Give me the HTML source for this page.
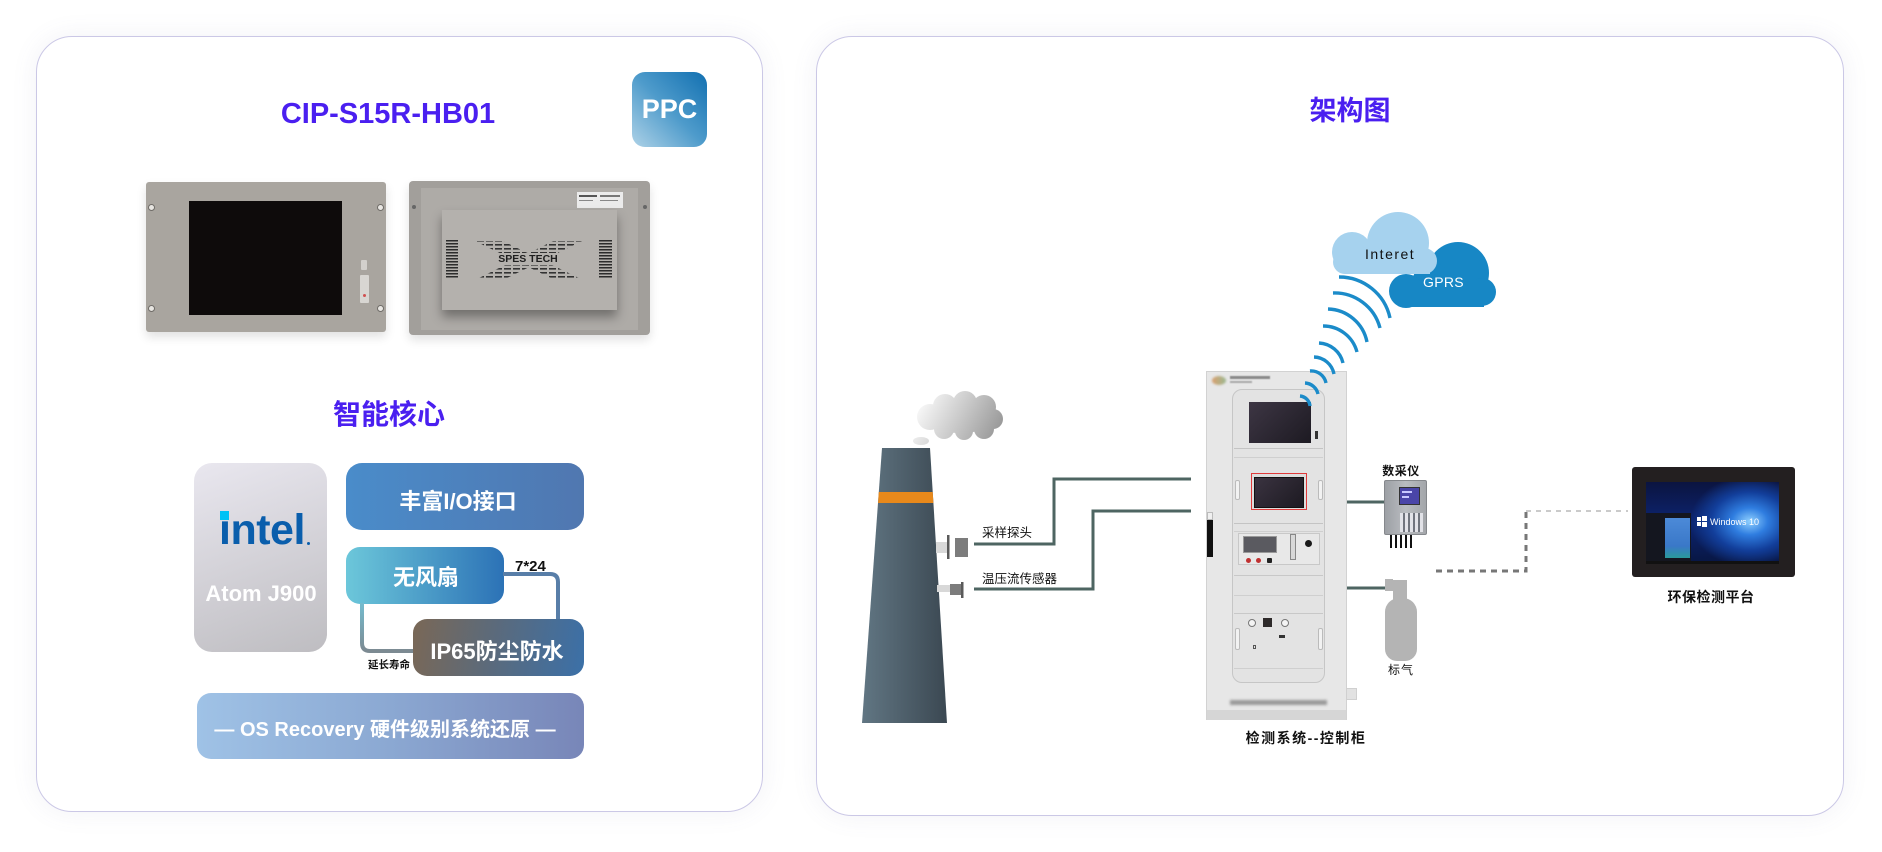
<!DOCTYPE html>
<html><head><meta charset="utf-8">
<style>
*{margin:0;padding:0;box-sizing:border-box}
html,body{width:1882px;height:852px;background:#fff;overflow:hidden}
body{position:relative;font-family:"Liberation Sans","Noto Sans CJK SC",sans-serif}
.a{position:absolute}
.t{position:absolute;line-height:1;white-space:nowrap}
.c{transform:translateX(-50%)}
.card{position:absolute;background:#fff;border:1px solid #cbc8e6;border-radius:36px;box-shadow:0 0 26px rgba(110,110,160,0.09)}
.b{font-weight:bold}
.w{color:#fff}
.hole{position:absolute;width:7px;height:7px;border-radius:50%;background:#e8e6e2;border:1.5px solid #6f6c68}
</style></head><body>

<!-- cards -->
<div class="card" style="left:36px;top:36px;width:727px;height:776px"></div>
<div class="card" style="left:816px;top:36px;width:1028px;height:780px"></div>

<!-- LEFT CARD -->
<div class="t c b" style="left:388px;top:100px;font-size:29px;color:#4a1ff0">CIP-S15R-HB01</div>
<div class="a b" style="left:632px;top:72px;width:75px;height:75px;border-radius:13px;background:linear-gradient(to bottom left,#1270b1 0%,#4e9bcb 50%,#aed2e7 100%);display:flex;align-items:center;justify-content:center;color:#fff;font-size:27px;line-height:1">PPC</div>

<!-- front panel -->
<div class="a" style="left:146px;top:182px;width:240px;height:150px;background:#a9a59f;border-radius:3px;box-shadow:0 5px 10px rgba(0,0,0,0.12)"></div>
<div class="a" style="left:189px;top:201px;width:153px;height:114px;background:#0e0b0b"></div>
<div class="hole" style="left:148px;top:204px"></div>
<div class="hole" style="left:377px;top:204px"></div>
<div class="hole" style="left:148px;top:305px"></div>
<div class="hole" style="left:377px;top:305px"></div>
<div class="a" style="left:361px;top:260px;width:6px;height:10px;background:#d3d0cc;border-radius:1px"></div>
<div class="a" style="left:360px;top:275px;width:9px;height:28px;background:#d8d6d2;border-radius:1px"></div>
<div class="a" style="left:363px;top:294px;width:3px;height:3px;background:#d05050;border-radius:50%"></div>

<!-- back panel -->
<div class="a" style="left:409px;top:181px;width:241px;height:154px;background:#a29f9b;border-radius:4px;box-shadow:0 5px 10px rgba(0,0,0,0.12)"></div>
<div class="a" style="left:421px;top:188px;width:217px;height:142px;background:#aeaba7"></div>
<div class="a" style="left:412px;top:205px;width:4px;height:4px;background:#666;border-radius:50%"></div>
<div class="a" style="left:643px;top:205px;width:4px;height:4px;background:#666;border-radius:50%"></div>
<div class="a" style="left:577px;top:192px;width:46px;height:16px;background:#ebebeb"></div>
<div class="a" style="left:579px;top:195px;width:18px;height:2px;background:#555"></div>
<div class="a" style="left:600px;top:195px;width:20px;height:2px;background:#777"></div>
<div class="a" style="left:579px;top:200px;width:14px;height:1px;background:#888"></div>
<div class="a" style="left:600px;top:200px;width:18px;height:1px;background:#888"></div>
<div class="a" style="left:442px;top:210px;width:175px;height:100px;background:#b4b1ad;box-shadow:0 7px 10px rgba(0,0,0,0.35)"></div>
<div class="a" style="left:446px;top:240px;width:12px;height:38px;background:repeating-linear-gradient(to bottom,#2c2c2c 0 1.4px,transparent 1.4px 3px)"></div>
<div class="a" style="left:599px;top:240px;width:13px;height:38px;background:repeating-linear-gradient(to bottom,#2c2c2c 0 1.4px,transparent 1.4px 3px)"></div>

<!-- intel box -->
<div class="a" style="left:194px;top:463px;width:133px;height:189px;border-radius:18px;background:linear-gradient(160deg,#e9e7ef,#bebdc1)"></div>
<div class="t b" style="left:219px;top:509px;font-size:43px;color:#0a5eac;letter-spacing:-0.5px">intel</div>
<div class="a" style="left:220px;top:511px;width:9px;height:9px;background:#00c2f5"></div>
<div class="a" style="left:307px;top:542px;width:3px;height:3px;background:#0a5eac;border-radius:50%"></div>
<div class="t c b w" style="left:261px;top:583px;font-size:22px">Atom J900</div>

<!-- feature boxes -->
<div class="a" style="left:346px;top:463px;width:238px;height:67px;border-radius:16px;background:linear-gradient(90deg,#4a8cca,#5077b0)"></div>
<div class="t c b w" style="left:458px;top:491px;font-size:22px">丰富I/O接口</div>

<div class="a" style="left:346px;top:547px;width:158px;height:57px;border-radius:14px;background:linear-gradient(90deg,#6cc7da,#2c72b6)"></div>
<div class="t c b w" style="left:426px;top:567px;font-size:22px">无风扇</div>

<div class="t b" style="left:515px;top:559px;font-size:15px;color:#111">7*24</div>

<svg class="a" style="left:0;top:0" width="1882" height="852">
<defs>
<linearGradient id="lg1" x1="0" y1="0" x2="0" y2="1"><stop offset="0" stop-color="#74bccf"/><stop offset="1" stop-color="#7c8a92"/></linearGradient>
</defs>
<path d="M362 603 V643 Q362 651 370 651 H415" stroke="url(#lg1)" stroke-width="4" fill="none"/>
<path d="M503 574 H550 Q558 574 558 582 V621" stroke="#587ea8" stroke-width="4" fill="none"/>
</svg>

<div class="a" style="left:413px;top:619px;width:171px;height:57px;border-radius:14px;background:linear-gradient(100deg,#7a6856,#5c6a7a 45%,#3b70a8)"></div>
<div class="t c b w" style="left:497px;top:641px;font-size:22px">IP65防尘防水</div>
<div class="t c b" style="left:389px;top:660px;font-size:10.5px;color:#111">延长寿命</div>

<div class="a" style="left:197px;top:693px;width:387px;height:66px;border-radius:14px;background:linear-gradient(90deg,#9fc2e6,#8ba8d2 50%,#7886b8)"></div>
<div class="t c b w" style="left:385px;top:720px;font-size:20px">— OS Recovery 硬件级别系统还原 —</div>

<div class="t c b" style="left:389px;top:401px;font-size:28px;color:#4a1ff0">智能核心</div>

<!-- RIGHT CARD -->
<div class="t c b" style="left:1350px;top:98px;font-size:27px;color:#4a1ff0">架构图</div>

<!-- cabinet -->
<div class="a" style="left:1206px;top:371px;width:141px;height:349px;background:#e7e7e7;border:1px solid #d2d2d2"></div>
<div class="a" style="left:1207px;top:710px;width:139px;height:10px;background:#d6d6d6"></div>
<div class="a" style="left:1346px;top:688px;width:11px;height:12px;background:#e2e2e2;border:1px solid #d0d0d0"></div>
<div class="a" style="left:1212px;top:376px;width:14px;height:9px;border-radius:50%;background:linear-gradient(90deg,#d9a070,#9cb890);filter:blur(1px)"></div>
<div class="a" style="left:1230px;top:376px;width:40px;height:3px;background:#8a8a8a;filter:blur(.6px)"></div>
<div class="a" style="left:1230px;top:381px;width:22px;height:2px;background:#aaa;filter:blur(.6px)"></div>
<div class="a" style="left:1232px;top:389px;width:93px;height:294px;border:1.5px solid #c6c6c6;border-radius:10px;background:#e3e3e3"></div>
<div class="a" style="left:1249px;top:402px;width:62px;height:41px;background:linear-gradient(135deg,#3d3644,#1d1a22)"></div>
<div class="a" style="left:1315px;top:431px;width:3px;height:8px;background:#333"></div>
<div class="a" style="left:1234px;top:448px;width:89px;height:1px;background:#c4c4c4"></div>
<div class="a" style="left:1234px;top:457px;width:89px;height:1px;background:#cfcfcf"></div>
<div class="a" style="left:1251px;top:473px;width:56px;height:37px;border:1.5px solid #e03a3a;background:#ddd"></div>
<div class="a" style="left:1254px;top:477px;width:50px;height:31px;background:linear-gradient(135deg,#3a3340,#1d1a22);border:1px solid #111"></div>
<div class="a" style="left:1235px;top:480px;width:5px;height:20px;background:#f2f2f2;border:1px solid #bbb;border-radius:2px"></div>
<div class="a" style="left:1318px;top:480px;width:5px;height:20px;background:#f2f2f2;border:1px solid #bbb;border-radius:2px"></div>
<div class="a" style="left:1234px;top:523px;width:89px;height:1px;background:#c4c4c4"></div>
<div class="a" style="left:1234px;top:531px;width:89px;height:1px;background:#cfcfcf"></div>
<div class="a" style="left:1238px;top:533px;width:82px;height:32px;border:1px solid #c8c8c8;background:#e8e8e8"></div>
<div class="a" style="left:1243px;top:536px;width:34px;height:17px;background:#5a5a60;border:1.5px solid #999"></div>
<div class="a" style="left:1246px;top:558px;width:5px;height:5px;border-radius:50%;background:#c03030"></div>
<div class="a" style="left:1256px;top:558px;width:5px;height:5px;border-radius:50%;background:#c03030"></div>
<div class="a" style="left:1267px;top:558px;width:5px;height:5px;border-radius:1px;background:#222"></div>
<div class="a" style="left:1290px;top:534px;width:6px;height:26px;background:#d8d8d8;border:1px solid #888"></div>
<div class="a" style="left:1305px;top:540px;width:7px;height:7px;border-radius:50%;background:#1a1a1a"></div>
<div class="a" style="left:1234px;top:575px;width:89px;height:1px;background:#c8c8c8"></div>
<div class="a" style="left:1234px;top:595px;width:89px;height:1px;background:#cfcfcf"></div>
<div class="a" style="left:1234px;top:613px;width:89px;height:1px;background:#c8c8c8"></div>
<div class="a" style="left:1248px;top:619px;width:8px;height:8px;border-radius:50%;background:#f4f4f4;border:1px solid #777"></div>
<div class="a" style="left:1263px;top:618px;width:9px;height:9px;background:#2e2a2a"></div>
<div class="a" style="left:1281px;top:619px;width:8px;height:8px;border-radius:50%;background:#f4f4f4;border:1px solid #777"></div>
<div class="a" style="left:1279px;top:635px;width:6px;height:3px;background:#333"></div>
<div class="a" style="left:1253px;top:645px;width:3px;height:4px;border:1px solid #555"></div>
<div class="a" style="left:1235px;top:628px;width:5px;height:22px;background:#f2f2f2;border:1px solid #bbb;border-radius:2px"></div>
<div class="a" style="left:1318px;top:628px;width:5px;height:22px;background:#f2f2f2;border:1px solid #bbb;border-radius:2px"></div>
<div class="a" style="left:1234px;top:668px;width:89px;height:1px;background:#cfcfcf"></div>
<div class="a" style="left:1207px;top:512px;width:6px;height:8px;background:#f0f0f0;border:1px solid #bbb"></div>
<div class="a" style="left:1207px;top:520px;width:6px;height:37px;background:#111"></div>
<div class="a" style="left:1230px;top:700px;width:97px;height:5px;background:#9a9a9a;filter:blur(1.2px)"></div>

<!-- 数采仪 device -->
<div class="a" style="left:1384px;top:480px;width:43px;height:55px;background:linear-gradient(90deg,#9da0a5,#b9bcc0 50%,#a3a6aa);border:1px solid #85888c;border-radius:2px"></div>
<div class="a" style="left:1399px;top:487px;width:21px;height:18px;background:#4a45a8;border:1px solid #333"></div>
<div class="a" style="left:1402px;top:491px;width:10px;height:1.5px;background:#c8c8ff"></div>
<div class="a" style="left:1402px;top:496px;width:7px;height:1.5px;background:#c8c8ff"></div>
<div class="a" style="left:1400px;top:513px;width:23px;height:19px;background:repeating-linear-gradient(90deg,#e8e8ee 0 3px,#6a6e78 3px 5px),#777;opacity:.9"></div>
<div class="a" style="left:1390px;top:535px;width:2px;height:13px;background:#111"></div>
<div class="a" style="left:1395px;top:535px;width:2px;height:13px;background:#111"></div>
<div class="a" style="left:1400px;top:535px;width:2px;height:13px;background:#111"></div>
<div class="a" style="left:1405px;top:535px;width:2px;height:13px;background:#111"></div>
<div class="a" style="left:1410px;top:535px;width:2px;height:13px;background:#111"></div>

<!-- gas cylinder -->
<div class="a" style="left:1385px;top:579px;width:8px;height:12px;background:#b4b4b4"></div>
<div class="a" style="left:1393px;top:580px;width:14px;height:22px;background:#b4b4b4"></div>
<div class="a" style="left:1385px;top:598px;width:32px;height:63px;background:#b4b4b4;border-radius:14px 14px 12px 12px"></div>

<!-- monitor -->
<div class="a" style="left:1632px;top:467px;width:163px;height:110px;background:#231f20;border-radius:3px"></div>
<div class="a" style="left:1646px;top:482px;width:133px;height:82px;background:radial-gradient(ellipse 45% 55% at 78% 48%,#8fd0ff 0%,#2f7de0 30%,#123e9a 65%,rgba(10,25,80,0) 100%),linear-gradient(180deg,#0b1440,#0c2470 50%,#081642)"></div>
<div class="a" style="left:1646px;top:513px;width:45px;height:50px;background:#14161f"></div>
<div class="a" style="left:1665px;top:518px;width:25px;height:40px;background:linear-gradient(180deg,#4c8ad8,#3a78c8 70%,#2a9a9a)"></div>
<div class="a" style="left:1646px;top:561px;width:133px;height:3px;background:#111"></div>
<div class="a" style="left:1697px;top:517px;width:4px;height:4px;background:#fff"></div>
<div class="a" style="left:1702px;top:516px;width:5px;height:5px;background:#fff"></div>
<div class="a" style="left:1697px;top:522px;width:4px;height:4px;background:#fff"></div>
<div class="a" style="left:1702px;top:522px;width:5px;height:5px;background:#fff"></div>
<div class="t w" style="left:1710px;top:518px;font-size:9px">Windows 10</div>

<!-- right-side SVG -->
<svg class="a" style="left:0;top:0" width="1882" height="852">
<defs>
<linearGradient id="chim" gradientUnits="userSpaceOnUse" x1="862" y1="0" x2="947" y2="0"><stop offset="0" stop-color="#617683"/><stop offset="1" stop-color="#3b4852"/></linearGradient>
<linearGradient id="smoke" gradientUnits="userSpaceOnUse" x1="925" y1="398" x2="995" y2="436"><stop offset="0" stop-color="#f6f6f6"/><stop offset="0.5" stop-color="#c9c9c9"/><stop offset="1" stop-color="#9a9a9a"/></linearGradient>
<pattern id="vent" width="9" height="4" patternUnits="userSpaceOnUse"><rect width="7" height="1.6" fill="#333"/></pattern>
</defs>
<!-- X pattern on back panel -->
<polygon points="475,241 503,241 583,280 555,280" fill="url(#vent)"/>
<polygon points="553,241 582,241 503,280 475,280" fill="url(#vent)"/>
<rect x="496" y="253" width="64" height="12" fill="#b4b1ad"/>

<!-- smoke -->
<g fill="url(#smoke)">
<ellipse cx="960" cy="418" rx="36" ry="15"/>
<circle cx="930" cy="417" r="13"/>
<circle cx="945" cy="406" r="12"/>
<circle cx="965" cy="403" r="12"/>
<circle cx="984" cy="407" r="12"/>
<circle cx="993" cy="419" r="10"/>
<circle cx="984" cy="429" r="10"/>
<circle cx="964" cy="431" r="9"/>
<circle cx="944" cy="429" r="10"/>
<ellipse cx="921" cy="441" rx="8" ry="4"/>
</g>
<!-- chimney -->
<polygon points="882,448 930,448 947,723 862,723" fill="url(#chim)"/>
<polygon points="878.8,492 932.7,492 933.4,503 878.1,503" fill="#e8891b"/>
<!-- probes -->
<rect x="936" y="542" width="11" height="11" fill="#d8d8d8"/>
<rect x="947" y="535" width="2.5" height="24" fill="#5a5a5a"/>
<rect x="955" y="538" width="13" height="19" fill="#7c7c7c"/>
<rect x="937" y="585" width="13" height="7" fill="#d8d8d8"/>
<rect x="950" y="584" width="11" height="11" fill="#7c7c7c"/>
<rect x="961" y="582" width="2.5" height="16" fill="#5a5a5a"/>
<!-- lines -->
<g stroke="#4e6562" stroke-width="3" fill="none">
<path d="M974 544 H1054 V479 H1191"/>
<path d="M974 589 H1093 V511 H1191"/>
<path d="M1347 502 H1384"/>
<path d="M1347 588 H1385"/>
</g>
<!-- dashed -->
<path d="M1436 571 H1526 V511" stroke="#777" stroke-width="3" fill="none" stroke-dasharray="6 5"/>
<path d="M1526 511 H1628" stroke="#aaa" stroke-width="1.2" fill="none" stroke-dasharray="5 5"/>
<!-- clouds -->
<g fill="#1787c5">
<circle cx="1458" cy="273" r="31"/>
<circle cx="1432" cy="283" r="20"/>
<circle cx="1406" cy="291" r="17"/>
<circle cx="1482" cy="292" r="14"/>
<rect x="1402" y="285" width="82" height="22"/>
</g>
<g fill="#a6d2ee">
<circle cx="1398" cy="243" r="31"/>
<circle cx="1352" cy="252" r="20"/>
<circle cx="1345" cy="262" r="12"/>
<circle cx="1424" cy="261" r="13"/>
<rect x="1345" y="252" width="85" height="22"/>
</g>
<!-- wifi arcs -->
<g stroke="#1b8bc9" stroke-width="3.4" fill="none">
<path d="M1339 277 A52 52 0 0 1 1390 318"/>
<path d="M1333 293 A47 47 0 0 1 1380 328"/>
<path d="M1328 309 A41 41 0 0 1 1367 342"/>
<path d="M1323 326 A35 35 0 0 1 1357 352"/>
<path d="M1319 343 A26 26 0 0 1 1343 363"/>
<path d="M1314 357 A21 21 0 0 1 1334 374"/>
<path d="M1310 371 A15 15 0 0 1 1326 383"/>
<path d="M1305 383 A14 14 0 0 1 1318 394"/>
<path d="M1300 396 A11 11 0 0 1 1310 406"/>
</g>
</svg>

<!-- right texts -->
<div class="t" style="left:1365px;top:247px;font-size:14px;color:#111;letter-spacing:1.5px">Interet</div>
<div class="t w" style="left:1423px;top:275px;font-size:14px;letter-spacing:.3px">GPRS</div>
<div class="t" style="left:982px;top:527px;font-size:12.5px;color:#111">采样探头</div>
<div class="t" style="left:982px;top:573px;font-size:12.5px;color:#111">温压流传感器</div>
<div class="t c b" style="left:1306px;top:731px;font-size:14px;color:#111;letter-spacing:1.5px">检测系统--控制柜</div>
<div class="t c" style="left:1401px;top:465px;font-size:12px;color:#111;font-weight:bold;letter-spacing:.5px">数采仪</div>
<div class="t c" style="left:1401px;top:664px;font-size:12px;color:#111;letter-spacing:1px">标气</div>
<div class="t c b" style="left:1711px;top:590px;font-size:14px;color:#111;letter-spacing:.5px">环保检测平台</div>

<div class="t c b" style="left:528px;top:254px;font-size:10.5px;color:#1e1e1e">SPES TECH</div>

</body></html>
